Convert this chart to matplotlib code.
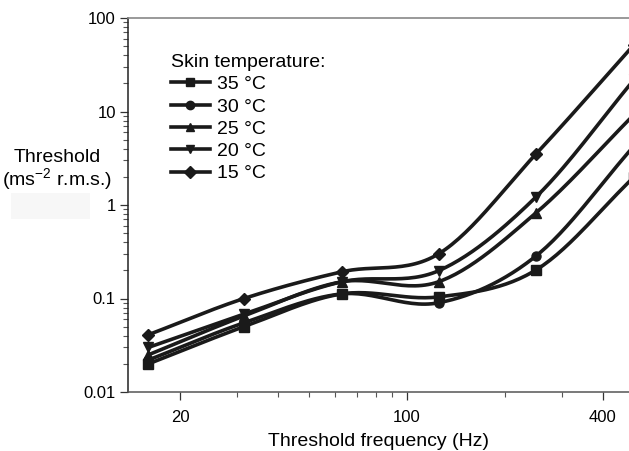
import numpy as np
import matplotlib.pyplot as plt
from matplotlib.patches import Rectangle
from matplotlib.ticker import FixedLocator, NullFormatter, FixedFormatter

plt.rcParams['font.family'] = ['Liberation Sans', 'DejaVu Sans']

# --- data ---
freq = [16, 31.5, 63, 125, 250, 500]
temps = ['35 °C', '30 °C', '25 °C', '20 °C', '15 °C']
markers = ['s', 'o', '^', 'v', 'D']
t35 = [0.020, 0.050, 0.112, 0.104, 0.203, 2.0]
t30 = [0.022, 0.055, 0.112, 0.090, 0.287, 4.3]
t25 = [0.025, 0.065, 0.151, 0.151, 0.83, 9.3]
t20 = [0.030, 0.068, 0.151, 0.198, 1.23, 22.0]
t15 = [0.041, 0.100, 0.193, 0.300, 3.55, 52.0]
series = [t35, t30, t25, t20, t15]


def smooth(x, y, n=30):
    # cubic (Catmull-Rom style) curve through the points in log-log space, for the line look only
    lx, ly = np.log10(x), np.log10(y)
    m = len(lx)
    tx = np.gradient(lx)
    ty = np.gradient(ly)
    ox, oy = [], []
    for i in range(m - 1):
        t = np.linspace(0, 1, n)
        h00 = 2 * t**3 - 3 * t**2 + 1
        h10 = t**3 - 2 * t**2 + t
        h01 = -2 * t**3 + 3 * t**2
        h11 = t**3 - t**2
        ox.append(h00 * lx[i] + h10 * tx[i] + h01 * lx[i + 1] + h11 * tx[i + 1])
        oy.append(h00 * ly[i] + h10 * ty[i] + h01 * ly[i + 1] + h11 * ty[i + 1])
    return 10 ** np.concatenate(ox), 10 ** np.concatenate(oy)


fig = plt.figure(figsize=(6.29, 4.51), dpi=100)
ax = fig.add_axes([128.3 / 629, 1 - 392 / 451, 1 - 128.3 / 629, (392 - 18) / 451])

for vals, mk, lab in zip(series, markers, temps):
    sx, sy = smooth(freq, vals)
    ax.plot(sx, sy, color='#1a1a1a', lw=2.6, solid_capstyle='round', zorder=2)
    ax.plot(freq, vals, linestyle='none', marker=mk, color='#1a1a1a', ms=6.5, zorder=3)
    ax.plot([], [], color='#1a1a1a', lw=2.6, marker=mk, ms=6, label=lab)

ax.set_xscale('log')
ax.set_yscale('log')
ax.set_xlim(13.87, 482)
ax.set_ylim(0.01, 100)

ax.xaxis.set_major_locator(FixedLocator([20, 100, 400]))
ax.xaxis.set_major_formatter(FixedFormatter(['20', '100', '400']))
ax.xaxis.set_minor_locator(FixedLocator([30, 40, 50, 60, 70, 80, 90, 200, 300]))
ax.xaxis.set_minor_formatter(NullFormatter())
ax.yaxis.set_major_locator(FixedLocator([0.01, 0.1, 1, 10, 100]))
ax.yaxis.set_major_formatter(FixedFormatter(['0.01', '0.1', '1', '10', '100']))

ax.tick_params(which='major', direction='out', length=6, width=0.9, color='#333333',
               labelsize=12, pad=3)
ax.tick_params(which='minor', direction='out', length=3.5, width=0.8, color='#555555')
ax.tick_params(axis='x', which='major', pad=7)

ax.spines['right'].set_visible(False)
ax.spines['top'].set_color('#888888')
ax.spines['top'].set_linewidth(1.2)
ax.spines['left'].set_color('#222222')
ax.spines['bottom'].set_color('#555555')
ax.spines['left'].set_linewidth(1.1)
ax.spines['bottom'].set_linewidth(1.1)

ax.set_xlabel('Threshold frequency (Hz)', fontsize=14, labelpad=6)

fig.text(57 / 629, 1 - 157 / 451, 'Threshold', fontsize=14, ha='center', va='center')
fig.text(57 / 629, 1 - 180 / 451, '(ms$^{\\mathregular{-2}}$ r.m.s.)', fontsize=14,
         ha='center', va='center')
fig.patches.append(Rectangle((11 / 629, 1 - 219 / 451), 79 / 629, 26 / 451,
                             transform=fig.transFigure, facecolor='#f7f7f7',
                             edgecolor='none'))

leg = ax.legend(loc='upper left', bbox_to_anchor=(171 / 629, 1 - 54 / 451),
                bbox_transform=fig.transFigure, frameon=False, numpoints=1,
                title='Skin temperature:', fontsize=14, title_fontsize=14,
                handlelength=2.0, handletextpad=0.35, labelspacing=0.24,
                borderpad=0, borderaxespad=0, alignment='left')

fig.savefig('out.png', dpi=100)
